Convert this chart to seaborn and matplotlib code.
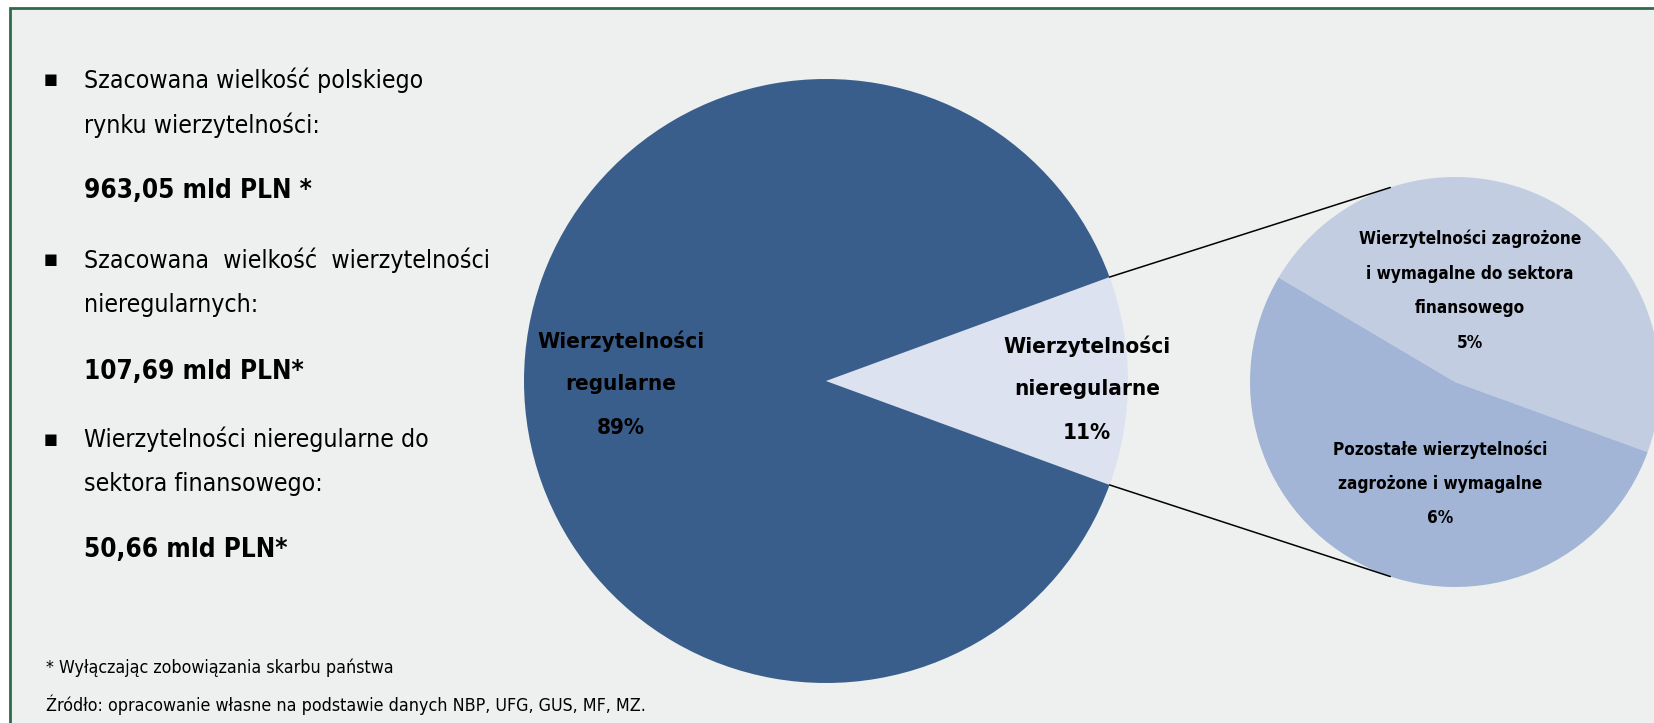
import numpy as np
import matplotlib
matplotlib.use("Agg")
import matplotlib.pyplot as plt
from matplotlib import font_manager
from matplotlib.patches import Rectangle
import seaborn as sns

# data (mld PLN)
total_market = 963.05
irregular = 107.69
irregular_fin = 50.66
main_labels = ["Wierzytelności\nnieregularne\n11%", "Wierzytelności\nregularne\n89%"]
main_values = [irregular, total_market - irregular]
sub_labels = ["Wierzytelności zagrożone\ni wymagalne do sektora\nfinansowego\n5%",
              "Pozostałe wierzytelności\nzagrożone i wymagalne\n6%"]
sub_values = [irregular_fin, irregular - irregular_fin]

main_colors = ["#dce2ef", "#3a5e8b"]
sub_colors = ["#c2cde1", "#a2b5d6"]
bg = "#edf0ef"
frame_green = "#2e6b4c"

sns.set_theme(style="white")

names = {f.name for f in font_manager.fontManager.ttflist}
if "Liberation Sans Narrow" in names:
    fam, stretch, k = "Liberation Sans Narrow", "normal", 1.0
else:
    fam, stretch, k = "DejaVu Sans", "condensed", 0.85
plt.rcParams["font.family"] = [fam, "DejaVu Sans"]

W, H = 1654, 723
fig = plt.figure(figsize=(W / 100, H / 100), dpi=100, facecolor="white")
ax = fig.add_axes([0, 0, 1, 1])
ax.set_facecolor("white")

# framed panel
ax.add_patch(Rectangle((10, -20), W + 40, H - 8 + 20, facecolor=bg,
                       edgecolor=frame_green, linewidth=2, zorder=0))

def py(y):
    return H - y

# main pie
c_main, r_main = (826, py(381)), 302
half = main_values[0] / sum(main_values) * 360 / 2
ax.pie(main_values, colors=main_colors, startangle=-half, counterclock=True,
       center=c_main, radius=r_main, frame=True,
       wedgeprops=dict(linewidth=0))

# secondary pie
c_sub, r_sub = (1455, py(382)), 205
ax.pie(sub_values, colors=sub_colors, startangle=-20.0, counterclock=True,
       center=c_sub, radius=r_sub, frame=True,
       wedgeprops=dict(linewidth=0))

# connector lines
a_main = np.deg2rad(half)
a_sub = np.deg2rad(108.4)
for s in (1, -1):
    x0 = c_main[0] + r_main * np.cos(a_main)
    y0 = c_main[1] + s * r_main * np.sin(a_main)
    x1 = c_sub[0] + r_sub * np.cos(a_sub)
    y1 = c_sub[1] + s * r_sub * np.sin(a_sub)
    ax.plot([x0, x1], [y0, y1], color="black", linewidth=1.1, zorder=3)

ax.set_xlim(0, W)
ax.set_ylim(0, H)
ax.set_aspect("equal")
ax.axis("off")

# pie labels, one line at a time
lab_kw = dict(ha="center", va="center", fontweight="bold", color="black",
              fontstretch=stretch, zorder=4)

def put_label(text, x, ys, size):
    for line, y in zip(text.split("\n"), ys):
        ax.text(x, py(y), line, fontsize=size * k, **lab_kw)

put_label(main_labels[1], 621, [341, 384, 428], 19)
put_label(main_labels[0], 1087, [346, 389, 433], 19)
put_label(sub_labels[0], 1470, [239, 274, 308, 343], 14.5)
put_label(sub_labels[1], 1440, [450, 484, 518], 14.5)

# left-hand text block
txt_kw = dict(ha="left", va="center", color="black", fontstretch=stretch)
bullet_kw = dict(ha="center", va="center", color="black", fontsize=10.5,
                 family="DejaVu Sans")
for yb in (80, 260, 439):
    ax.text(51, py(yb), "■", **bullet_kw)
lines = [(80, "Szacowana wielkość polskiego"),
         (125, "rynku wierzytelności:"),
         (260, "Szacowana  wielkość  wierzytelności"),
         (305, "nieregularnych:"),
         (439, "Wierzytelności nieregularne do"),
         (484, "sektora finansowego:")]
for y, s in lines:
    ax.text(84, py(y), s, fontsize=21 * k, **txt_kw)
for y, s in [(191, "963,05 mld PLN *"), (372, "107,69 mld PLN*"), (550, "50,66 mld PLN*")]:
    ax.text(84, py(y), s, fontsize=22 * k, fontweight="bold", **txt_kw)
ax.text(46, py(668), "* Wyłączając zobowiązania skarbu państwa", fontsize=15 * k, **txt_kw)
ax.text(46, py(705), "Źródło: opracowanie własne na podstawie danych NBP, UFG, GUS, MF, MZ.",
        fontsize=15 * k, **txt_kw)

fig.savefig("out.png", dpi=100, facecolor="white")
